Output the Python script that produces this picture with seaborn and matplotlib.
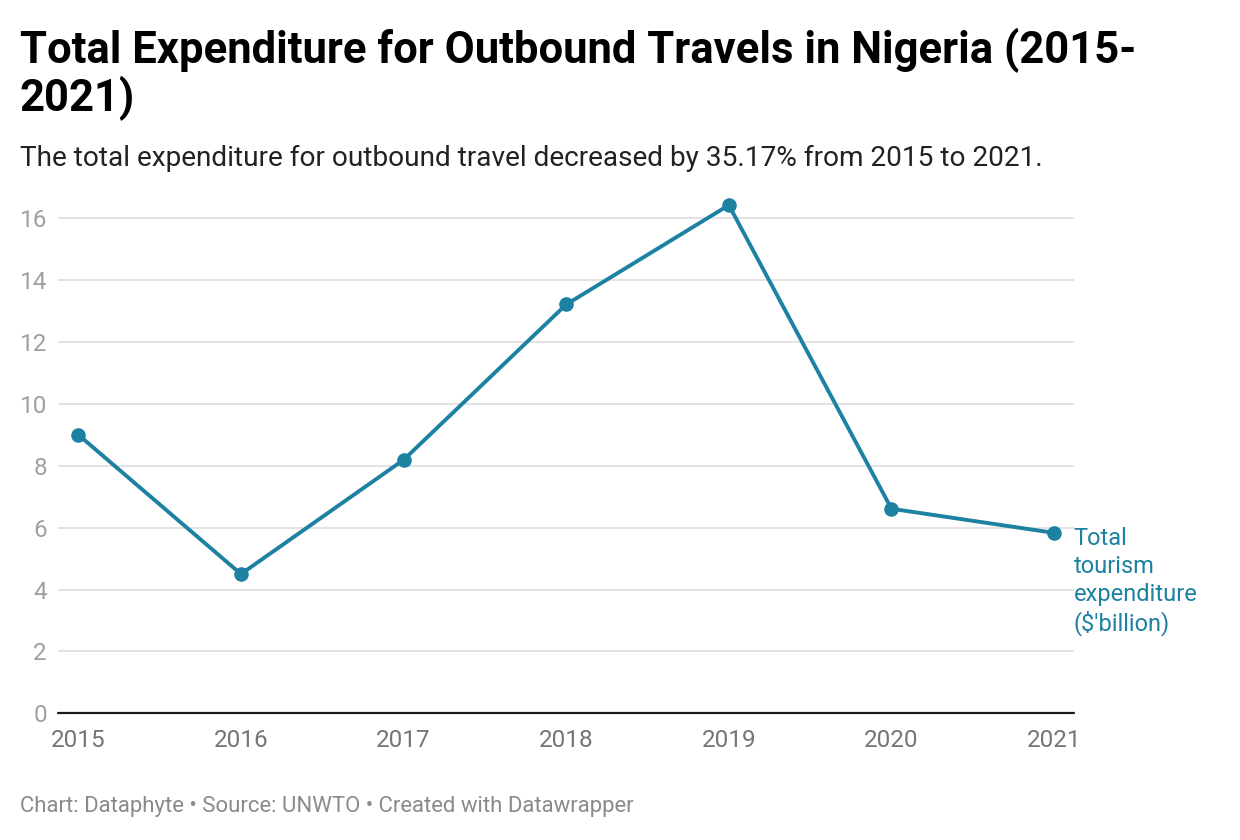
import pandas as pd
import matplotlib.pyplot as plt
import seaborn as sns

# values
years = [2015, 2016, 2017, 2018, 2019, 2020, 2021]
expenditure = [9.0, 4.5, 8.19, 13.21, 16.42, 6.61, 5.83]
y_ticks = [0, 2, 4, 6, 8, 10, 12, 14, 16]

title = "Total Expenditure for Outbound Travels in Nigeria (2015-\n2021)"
subtitle = "The total expenditure for outbound travel decreased by 35.17% from 2015 to 2021."
footer = "Chart: Dataphyte \u2022 Source: UNWTO \u2022 Created with Datawrapper"
series_label = "Total\ntourism\nexpenditure\n($'billion)"

data = pd.DataFrame({"year": years, "expenditure": expenditure})

line_color = "#1d81a2"

sns.set_theme(style="white")
plt.rcParams['font.family'] = ['Roboto', 'DejaVu Sans']

fig = plt.figure(figsize=(12.4, 8.4), dpi=100)
ax = fig.add_axes([0.0468, 0.1508, 0.8194, 0.619])

sns.lineplot(data=data, x="year", y="expenditure", ax=ax,
             color=line_color, linewidth=2.8, marker="o",
             markersize=10.5, markeredgewidth=0, clip_on=False, zorder=3)

ax.set_xlim(years[0] - 0.125, years[-1] + 0.123)
ax.set_ylim(0, 16.8)
ax.set_xticks(years)
ax.set_xticklabels([str(y) for y in years])
ax.set_yticks(y_ticks)
ax.set_yticklabels([str(t) for t in y_ticks])

# light horizontal grid, dark baseline
for t in y_ticks[1:]:
    ax.axhline(t, color="#e3e3e3", linewidth=1.4, zorder=0)
ax.axhline(0, color="#1a1a1a", linewidth=1.6, zorder=1, clip_on=False)

for side in ["top", "right", "left", "bottom"]:
    ax.spines[side].set_visible(False)

ax.tick_params(axis="x", length=0, pad=11, labelsize=17.5, labelcolor="#757575")
ax.tick_params(axis="y", length=0, pad=8, labelsize=17.5, labelcolor="#a0a0a0")
ax.set_xlabel("")
ax.set_ylabel("")

ax.annotate(series_label, xy=(years[-1], expenditure[-1]),
            xytext=(14, 4), textcoords="offset points",
            ha="left", va="top", fontsize=17, color=line_color,
            linespacing=1.26, annotation_clip=False)

fig.text(0.0161, 0.967, title, ha="left", va="top", fontsize=31.4,
         fontweight="bold", color="#000000", linespacing=1.1)
fig.text(0.0161, 0.8024, subtitle, ha="left", va="baseline",
         fontsize=20.2, color="#222222")
fig.text(0.0161, 0.0333, footer, ha="left", va="baseline",
         fontsize=15.9, color="#8a8a8a")

plt.savefig("out.png", dpi=100)
plt.close()
